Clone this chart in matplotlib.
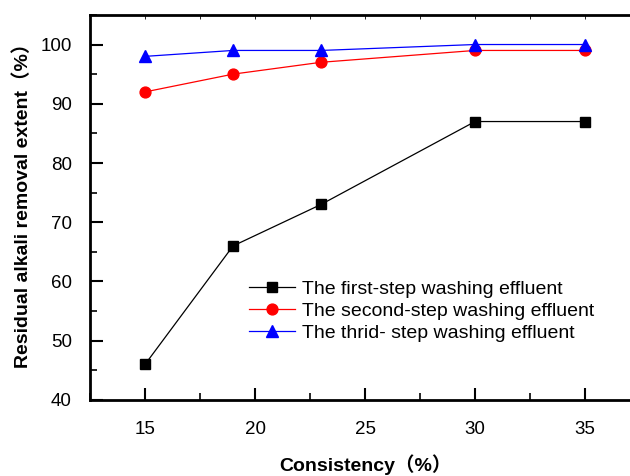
import matplotlib
matplotlib.use('Agg')
import matplotlib.pyplot as plt
from matplotlib.ticker import MultipleLocator

plt.rcParams['font.family'] = ['Liberation Sans', 'Noto Sans CJK SC', 'DejaVu Sans']

consistency = [15, 19, 23, 30, 35]
first_step = [46, 66, 73, 87, 87]
second_step = [92, 95, 97, 99, 99]
third_step = [98, 99, 99, 100, 100]

fig = plt.figure(figsize=(6.3, 4.76), dpi=100)
ax = fig.add_axes([0.1429, 0.1597, 0.873, 0.809])

ax.plot(consistency, first_step, color='black', marker='s', markersize=7,
        linewidth=0.9, label='The first-step washing effluent')
ax.plot(consistency, second_step, color='red', marker='o', markersize=7.8,
        linewidth=0.9, label='The second-step washing effluent')
ax.plot(consistency, third_step, color='blue', marker='^', markersize=8.5,
        linewidth=0.9, label='The thrid- step washing effluent')

ax.set_xlim(12.5, 37.5)
ax.set_ylim(40, 105)
ax.xaxis.set_major_locator(MultipleLocator(5))
ax.xaxis.set_minor_locator(MultipleLocator(2.5))
ax.yaxis.set_major_locator(MultipleLocator(10))
ax.yaxis.set_minor_locator(MultipleLocator(5))
ax.set_yticks([40, 50, 60, 70, 80, 90, 100])

ax.tick_params(which='major', direction='in', length=9, width=1.5,
               labelsize=13.5, top=True)
ax.tick_params(axis='x', which='major', pad=15)
ax.tick_params(axis='y', which='major', pad=13)
ax.tick_params(which='minor', direction='in', length=5, width=1.2, top=True)
for t in ax.xaxis.get_major_ticks() + ax.xaxis.get_minor_ticks():
    t.tick2line.set_markersize(3)
    t.tick2line.set_markeredgewidth(0.6)

for side in ['left', 'bottom', 'top']:
    ax.spines[side].set_linewidth(2)
ax.spines['right'].set_visible(False)

ax.set_xlabel('Consistency（%）', fontsize=14, fontweight='bold', labelpad=12)
ax.set_ylabel('Residual alkali removal extent（%）', fontsize=14,
              fontweight='bold')
ax.yaxis.set_label_coords(-0.105, 0.517)

ax.legend(loc='upper left', bbox_to_anchor=(0.274, 0.33), frameon=False,
          fontsize=14, handlelength=2.4, labelspacing=0.22, handletextpad=0.35,
          borderaxespad=0)

fig.savefig('out.png', dpi=100)
